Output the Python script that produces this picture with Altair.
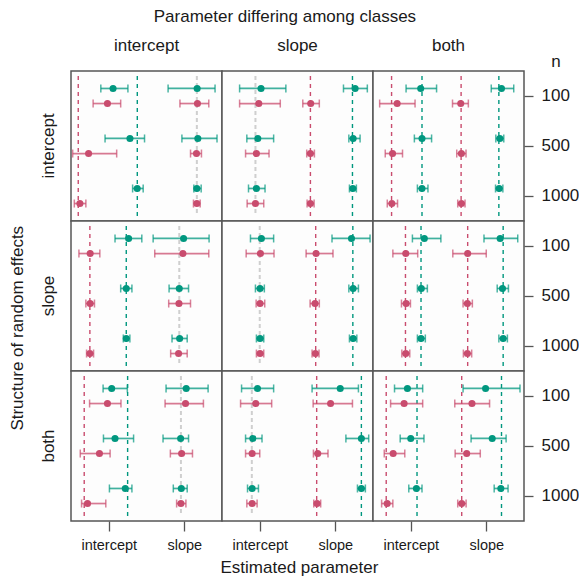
import altair as alt
import pandas as pd

TEAL = "#00977F"
PINK = "#C94C6E"
GRAY = "#CFCFCF"
FONT = "Liberation Sans"
TXT = "#1A1A1A"

structure_levels = ["intercept", "slope", "both"]   # rows: structure of random effects
differing_levels = ["intercept", "slope", "both"]   # columns: parameter differing among classes
n_levels = [100, 500, 1000]
class_levels = ["Class 1", "Class 2"]
cells = [("intercept", "Class 1"), ("intercept", "Class 2"), ("slope", "Class 1"), ("slope", "Class 2")]

# (estimate, lower, upper) per n; order: intercept c1, intercept c2, slope c1, slope c2
est_int_int = [
    [(1.057, 0.895, 1.254), (0.983, 0.793, 1.158), (2.171, 1.786, 2.408), (2.175, 1.943, 2.325)],
    [(1.281, 0.951, 1.474), (0.733, 0.522, 1.105), (2.180, 1.969, 2.434), (2.162, 2.083, 2.228)],
    [(1.377, 1.316, 1.456), (0.618, 0.544, 0.697), (2.167, 2.127, 2.224), (2.167, 2.122, 2.211)],
]
est_int_slope = [
    [(1.017, 0.733, 1.346), (0.987, 0.733, 1.272), (2.263, 2.109, 2.425), (1.675, 1.570, 1.789)],
    [(0.974, 0.829, 1.184), (0.956, 0.812, 1.123), (2.237, 2.180, 2.329), (1.671, 1.622, 1.724)],
    [(0.956, 0.851, 1.070), (0.943, 0.833, 1.053), (2.233, 2.188, 2.280), (1.671, 1.627, 1.720)],
]
est_int_both = [
    [(1.132, 0.938, 1.342), (0.820, 0.588, 1.057), (2.202, 2.066, 2.364), (1.662, 1.553, 1.763)],
    [(1.149, 1.048, 1.276), (0.759, 0.662, 0.891), (2.180, 2.127, 2.232), (1.671, 1.609, 1.732)],
    [(1.149, 1.088, 1.228), (0.750, 0.689, 0.825), (2.171, 2.123, 2.220), (1.671, 1.622, 1.719)],
]
est_slope_int = [
    [(1.263, 1.083, 1.438), (0.754, 0.605, 0.882), (1.991, 1.588, 2.329), (1.982, 1.609, 2.325)],
    [(1.232, 1.158, 1.307), (0.754, 0.697, 0.811), (1.934, 1.799, 2.057), (1.930, 1.794, 2.083)],
    [(1.232, 1.193, 1.280), (0.750, 0.706, 0.799), (1.939, 1.838, 2.039), (1.925, 1.820, 2.039)],
]
est_slope_slope = [
    [(1.022, 0.877, 1.184), (1.009, 0.820, 1.189), (2.215, 1.957, 2.461), (1.746, 1.614, 1.970)],
    [(1.004, 0.943, 1.061), (1.004, 0.952, 1.066), (2.237, 2.180, 2.307), (1.732, 1.667, 1.789)],
    [(1.004, 0.956, 1.053), (1.004, 0.956, 1.053), (2.237, 2.188, 2.286), (1.737, 1.693, 1.785)],
]
est_slope_both = [
    [(1.180, 1.022, 1.399), (0.934, 0.763, 1.092), (2.184, 1.970, 2.417), (1.754, 1.557, 2.000)],
    [(1.140, 1.088, 1.220), (0.939, 0.877, 0.996), (2.215, 2.145, 2.294), (1.750, 1.693, 1.816)],
    [(1.136, 1.088, 1.193), (0.934, 0.882, 0.987), (2.224, 2.167, 2.280), (1.750, 1.697, 1.807)],
]
est_both_int = [
    [(1.039, 0.925, 1.246), (0.983, 0.746, 1.162), (2.026, 1.759, 2.316), (2.017, 1.746, 2.254)],
    [(1.083, 0.930, 1.329), (0.877, 0.623, 1.018), (1.952, 1.719, 2.057), (1.965, 1.816, 2.109)],
    [(1.219, 1.009, 1.307), (0.719, 0.640, 0.961), (1.961, 1.855, 2.039), (1.956, 1.899, 2.022)],
]
est_both_slope = [
    [(0.970, 0.759, 1.184), (0.947, 0.746, 1.158), (2.066, 1.693, 2.307), (1.938, 1.707, 2.228)],
    [(0.908, 0.812, 1.030), (0.899, 0.812, 1.000), (2.346, 2.141, 2.443), (1.768, 1.711, 1.904)],
    [(0.899, 0.838, 0.983), (0.899, 0.829, 0.965), (2.346, 2.294, 2.399), (1.759, 1.715, 1.807)],
]
est_both_both = [
    [(0.956, 0.785, 1.158), (0.912, 0.733, 1.158), (1.991, 1.693, 2.447), (1.811, 1.583, 2.044)],
    [(1.000, 0.860, 1.175), (0.767, 0.649, 0.921), (2.079, 1.799, 2.263), (1.741, 1.588, 1.921)],
    [(1.075, 0.974, 1.149), (0.688, 0.614, 0.763), (2.193, 2.105, 2.289), (1.675, 1.622, 1.733)],
]

# true values: tuple = (class 1, class 2); single number = shared by both classes
true_int_int = {"intercept": (1.378, 0.596), "slope": 2.167}
true_int_slope = {"intercept": 0.943, "slope": (2.228, 1.671)}
true_int_both = {"intercept": (1.149, 0.746), "slope": (2.167, 1.667)}
true_slope_int = {"intercept": (1.232, 0.750), "slope": 1.934}
true_slope_slope = {"intercept": 1.000, "slope": (2.233, 1.741)}
true_slope_both = {"intercept": (1.136, 0.930), "slope": (2.224, 1.754)}
true_both_int = {"intercept": (1.250, 0.675), "slope": 1.956}
true_both_slope = {"intercept": 0.895, "slope": (2.346, 1.754)}
true_both_both = {"intercept": (1.083, 0.675), "slope": (2.202, 1.675)}

panels = {
    ("intercept", "intercept"): (est_int_int, true_int_int),
    ("intercept", "slope"): (est_int_slope, true_int_slope),
    ("intercept", "both"): (est_int_both, true_int_both),
    ("slope", "intercept"): (est_slope_int, true_slope_int),
    ("slope", "slope"): (est_slope_slope, true_slope_slope),
    ("slope", "both"): (est_slope_both, true_slope_both),
    ("both", "intercept"): (est_both_int, true_both_int),
    ("both", "slope"): (est_both_slope, true_both_slope),
    ("both", "both"): (est_both_both, true_both_both),
}

records = []
for (s, d), (est, tru) in panels.items():
    for i, n in enumerate(n_levels):
        for j, (p, c) in enumerate(cells):
            e, lo, hi = est[i][j]
            records.append(dict(kind="est", structure=s, differing=d, n=n, param=p,
                                cls=c, x=e, lo=lo, hi=hi))
    for p, v in tru.items():
        if isinstance(v, tuple):
            for c, val in zip(class_levels, v):
                records.append(dict(kind="true", structure=s, differing=d, param=p, cls=c, x=val))
        else:
            records.append(dict(kind="true", structure=s, differing=d, param=p, cls="shared", x=v))
df = pd.DataFrame(records)

W, H = 151, 150

color = alt.Color("cls:N", scale=alt.Scale(domain=["Class 1", "Class 2", "shared"],
                                           range=[TEAL, PINK, GRAY]), legend=None)
xscale = alt.Scale(domain=[0.5, 2.5], nice=False, zero=False)
xaxis = alt.Axis(values=[1, 2], labelExpr="datum.value == 1 ? 'intercept' : 'slope'",
                 grid=False, domain=False, tickSize=10, tickColor="#555555", tickWidth=1.3,
                 labelFontSize=14.5, labelColor=TXT, labelPadding=7)
yscale = alt.Scale(type="band", paddingInner=0, paddingOuter=0)
yaxis = alt.Axis(orient="right", domain=False, grid=False, tickSize=9, tickColor="#555555",
                 tickWidth=1.3, labelFontSize=17, labelColor=TXT, labelPadding=8)
y = alt.Y("n:O", scale=yscale, axis=yaxis, title=None, sort=n_levels)
yoff = alt.YOffset("cls:N", scale=alt.Scale(domain=class_levels, paddingInner=0, paddingOuter=0.66))

base = alt.Chart().properties(width=W, height=H)

shared_lines = base.transform_filter("datum.kind == 'true' && datum.cls == 'shared'").mark_rule(
    strokeDash=[4, 3], strokeWidth=2, color=GRAY
).encode(x=alt.X("x:Q", scale=xscale, axis=xaxis, title=None),
         y=alt.value(5), y2=alt.value(H - 5))

class_lines = base.transform_filter("datum.kind == 'true' && datum.cls != 'shared'").mark_rule(
    strokeDash=[4, 4], strokeWidth=1.4
).encode(x=alt.X("x:Q", scale=xscale, axis=xaxis, title=None),
         y=alt.value(5), y2=alt.value(H - 5), color=color)

est = base.transform_filter("datum.kind == 'est'")
bars = est.mark_rule(strokeWidth=1.7, opacity=0.75).encode(
    x=alt.X("lo:Q", scale=xscale, axis=xaxis, title=None), x2="hi:Q",
    y=y, yOffset=yoff, color=color)
cap_lo = est.mark_tick(orient="vertical", size=8, thickness=1.5, opacity=0.7).encode(
    x=alt.X("lo:Q", scale=xscale, axis=xaxis, title=None), y=y, yOffset=yoff, color=color)
cap_hi = est.mark_tick(orient="vertical", size=8, thickness=1.5, opacity=0.7).encode(
    x=alt.X("hi:Q", scale=xscale, axis=xaxis, title=None), y=y, yOffset=yoff, color=color)
points = est.mark_circle(size=50, opacity=1).encode(
    x=alt.X("x:Q", scale=xscale, axis=xaxis, title=None), y=y, yOffset=yoff, color=color)

n_label = base.transform_filter(
    "datum.kind == 'true' && datum.structure == 'intercept' && datum.differing == 'both' && datum.cls == 'Class 1' && datum.param == 'intercept'"
).mark_text(text="n", fontSize=17, baseline="alphabetic", align="center", color=TXT).encode(
    x=alt.value(W + 32), y=alt.value(-4))

layered = alt.layer(shared_lines, class_lines, bars, cap_lo, cap_hi, points, n_label, data=df)

facet = layered.facet(
    row=alt.Row("structure:N", sort=structure_levels, title=None,
                header=alt.Header(labelAngle=-90, labelOrient="left", labelFontSize=17,
                                  labelColor=TXT, labelPadding=5)),
    column=alt.Column("differing:N", sort=differing_levels, title=None,
                      header=alt.Header(labelFontSize=17, labelColor=TXT, labelPadding=16)),
    spacing=0,
).properties(
    bounds="flush",
    title=alt.TitleParams("Estimated parameter", orient="bottom", anchor="middle",
                          fontSize=17, fontWeight="normal", color=TXT, offset=8, dx=-10),
)

inner = alt.vconcat(facet).properties(
    title=alt.TitleParams("Structure of random effects", orient="left", anchor="middle",
                          fontSize=17, fontWeight="normal", color=TXT, offset=13, dx=-22),
)

chart = alt.hconcat(inner).properties(
    title=alt.TitleParams("Parameter differing among classes", orient="top", anchor="middle",
                          fontSize=17, fontWeight="normal", color=TXT, offset=11, dx=-9),
    padding=0,
).configure(font=FONT).configure_view(
    stroke="#555555", strokeWidth=1.5, fill="#FDFDFD"
)

chart.save("out.html", embed_options={"renderer": "svg", "actions": False})
